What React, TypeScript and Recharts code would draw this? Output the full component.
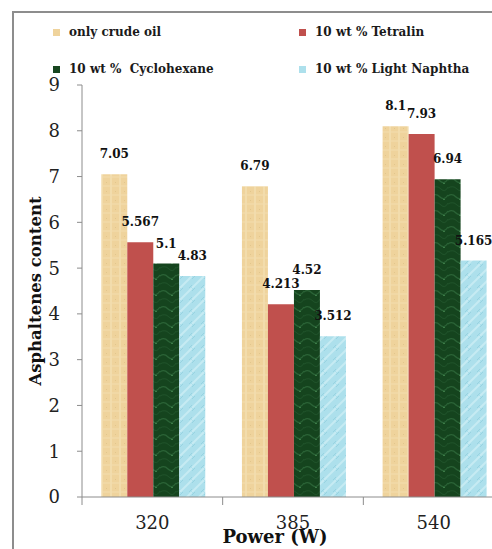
import React from 'react';
import { BarChart, Bar, XAxis, YAxis, LabelList } from 'recharts';

const categories = ['320', '385', '540'];
const crudeOil = [7.05, 6.79, 8.1];
const tetralin = [5.567, 4.213, 7.93];
const cyclohexane = [5.1, 4.52, 6.94];
const lightNaphtha = [4.83, 3.512, 5.165];
const yTicks = [0, 1, 2, 3, 4, 5, 6, 7, 8, 9];

const seriesNames = ['only crude oil', '10 wt % Tetralin', '10 wt %  Cyclohexane', '10 wt % Light Naphtha'];
const swatches = ['#EFD39C', '#C0504D', '#17461F', '#ADE0EC'];

const data = categories.map((c, i) => ({
  power: c,
  crude: crudeOil[i],
  tetralin: tetralin[i],
  cyclo: cyclohexane[i],
  naphtha: lightNaphtha[i],
}));

const SERIF = '"DejaVu Serif", "Liberation Serif", serif';

const XTick = (props: any) => {
  const { x, y, payload } = props;
  const half = payload && payload.offset ? payload.offset : 70;
  return (
    <g>
      {payload.index === 0 && <line x1={x - half} y1={y} x2={x - half} y2={y + 8} stroke="#8c8c8c" />}
      <line x1={x + half} y1={y} x2={x + half} y2={y + 8} stroke="#8c8c8c" />
      <text x={x} y={y + 32} textAnchor="middle" fontFamily={SERIF} fontSize={18} fill="#222">
        {payload.value}
      </text>
    </g>
  );
};

const YLabel = (props: any) => {
  const vb = props.viewBox || { x: 0, y: 85, width: 82, height: 412 };
  const cx = vb.x + 35;
  const cy = vb.y + vb.height / 2;
  return (
    <text
      x={cx}
      y={cy}
      transform={`rotate(-90 ${cx} ${cy})`}
      textAnchor="middle"
      dominantBaseline="central"
      fontFamily={SERIF}
      fontWeight="bold"
      fontSize={16.5}
      fill="#111"
    >
      Asphaltenes content
    </text>
  );
};

const XLabel = (props: any) => {
  const vb = props.viewBox || { x: 82, y: 497, width: 422, height: 40 };
  return (
    <text
      x={vb.x + vb.width / 2 - 18}
      y={vb.y + 46}
      textAnchor="middle"
      fontFamily={SERIF}
      fontWeight="bold"
      fontSize={18}
      fill="#111"
    >
      Power (W)
    </text>
  );
};

const labelStyle = { fontFamily: SERIF, fontWeight: 'bold' as const, fontSize: 12, fill: '#111' };

function Legend() {
  return (
    <div style={{ position: 'absolute', left: 0, top: 0 }}>
      {seriesNames.map((name, i) => {
        const left = i % 2 === 0 ? 53 : 299;
        const top = i < 2 ? 27 : 64;
        return (
          <div key={name} style={{ position: 'absolute', left, top, display: 'flex', alignItems: 'center', whiteSpace: 'pre' }}>
            <div style={{ width: 7, height: 7, background: swatches[i], marginRight: 9 }} />
            <span
              style={{
                fontFamily: SERIF,
                fontWeight: 'bold',
                fontSize: 12,
                color: '#1a1a1a',
                lineHeight: '10px',
              }}
            >
              {name}
            </span>
          </div>
        );
      })}
    </div>
  );
}

export default function App() {
  return (
    <div style={{ position: 'absolute', left: 0, top: 0, width: 492, height: 549, overflow: 'hidden', background: '#fff' }}>
      <div
        style={{
          position: 'absolute',
          left: 12,
          top: 11,
          width: 600,
          height: 700,
          border: '2px solid #8d8d8d',
        }}
      />
      <div style={{ position: 'absolute', left: 0, top: 0 }}>
        <BarChart
          width={520}
          height={549}
          data={data}
          margin={{ top: 85, right: 16, bottom: 12, left: 0 }}
          barCategoryGap="13.7%"
          barGap={0}
        >
          <defs>
            <pattern id="texTan" patternUnits="userSpaceOnUse" width="9" height="9">
              <rect width="9" height="9" fill="#EFD39C" />
              <line x1="3" y1="0" x2="3" y2="9" stroke="#F4DFB2" strokeWidth="1.5" />
              <line x1="0" y1="6" x2="9" y2="6" stroke="#F3DDAE" strokeWidth="1" />
              <rect x="7" y="2" width="1" height="1" fill="#E2C68C" />
            </pattern>
            <pattern id="texGreen" patternUnits="userSpaceOnUse" width="16" height="16">
              <rect width="16" height="16" fill="#15441E" />
              <path d="M0 4 Q4 1 8 5 T16 3" stroke="#2A6336" strokeWidth="1.2" fill="none" />
              <path d="M0 12 Q5 9 9 13 T16 11" stroke="#1F532A" strokeWidth="1" fill="none" />
              <rect x="11" y="7" width="2" height="1" fill="#3B7A46" />
            </pattern>
            <pattern id="texCyan" patternUnits="userSpaceOnUse" width="12" height="12">
              <rect width="12" height="12" fill="#ADE0EC" />
              <path d="M0 12 L12 0" stroke="#C6EBF3" strokeWidth="2" />
              <path d="M-3 6 L6 -3 M6 15 L15 6" stroke="#98D3E1" strokeWidth="1" />
            </pattern>
          </defs>
          <XAxis
            dataKey="power"
            stroke="#8c8c8c"
            tickLine={false}
            tickSize={0}
            tickMargin={0}
            height={40}
            tick={<XTick />}
            interval={0}
            label={<XLabel />}
          />
          <YAxis
            domain={[0, 9]}
            ticks={yTicks}
            stroke="#8c8c8c"
            width={82}
            tickSize={5}
            tickMargin={17}
            tick={{ fontFamily: SERIF, fontSize: 18, fill: '#222' }}
            label={<YLabel />}
            allowDataOverflow
          />
          <Bar dataKey="crude" fill="url(#texTan)" isAnimationActive={false}>
            <LabelList dataKey="crude" position="top" offset={16} style={labelStyle} />
          </Bar>
          <Bar dataKey="tetralin" fill="#C0504D" isAnimationActive={false}>
            <LabelList dataKey="tetralin" position="top" offset={16} style={labelStyle} />
          </Bar>
          <Bar dataKey="cyclo" fill="url(#texGreen)" isAnimationActive={false}>
            <LabelList dataKey="cyclo" position="top" offset={16} style={labelStyle} />
          </Bar>
          <Bar dataKey="naphtha" fill="url(#texCyan)" isAnimationActive={false}>
            <LabelList dataKey="naphtha" position="top" offset={16} style={labelStyle} />
          </Bar>
        </BarChart>
      </div>
      <Legend />
    </div>
  );
}
